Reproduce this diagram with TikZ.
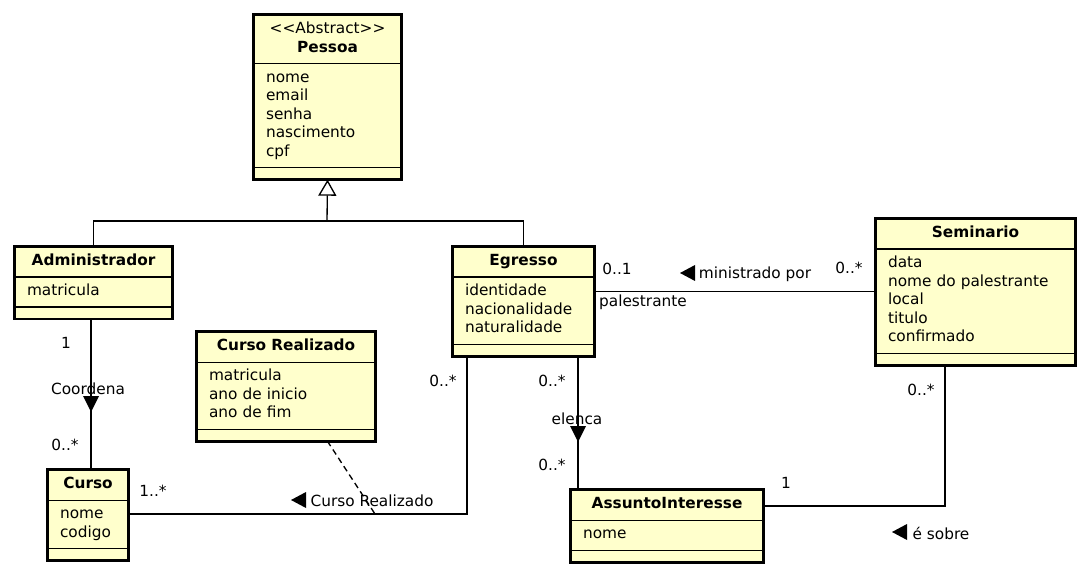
\documentclass[tikz,border=0pt]{standalone}
\usepackage{amsmath}
\usepackage{fontspec}
\setmainfont{DejaVu Sans}
\usepackage{tikz}
\usetikzlibrary{shapes.multipart,arrows.meta}
\definecolor{umlyellow}{HTML}{FFFFCC}

\begin{document}
\begin{tikzpicture}[x=0.75pt,y=-0.75pt]
\tikzstyle{umlclass}=[rectangle split, rectangle split parts=3, draw, line width=0.8pt, fill=umlyellow, inner xsep=9pt, inner ysep=3.9pt, rectangle split empty part height=0pt, rectangle split empty part depth=0pt, anchor=north west, font=\fontsize{11.5}{13.9}\selectfont]
\tikzstyle{border}=[line width=2.2pt]
\tikzstyle{assoc}=[line width=1pt]
\tikzstyle{lbl}=[inner sep=0pt, font=\fontsize{11.5}{13.9}\selectfont]
	\fill[white] (0,0) rectangle (1090,574);
	\useasboundingbox (0,0) rectangle (1090,574);
	% classes
	\node[umlclass, text width=92.25pt] (pessoa) at (253.5,14.5) {\strut\hfill <{}<Abstract>{}>\hfill\strut\\ \hfill\textbf{Pessoa}\hfill\strut
		\nodepart{two}\strut nome\\ email\\ senha\\ nascimento\\ cpf\strut
		\nodepart{three}\rule{0pt}{0pt}};
	\node[umlclass, text width=99.75pt] (adm) at (14.5,246.5) {\strut\hfill\textbf{Administrador}\hfill\strut
		\nodepart{two}\strut matricula
		\nodepart{three}\rule{0pt}{0pt}};
	\node[umlclass, text width=87.75pt] (egresso) at (452.5,246.5) {\strut\hfill\textbf{Egresso}\hfill\strut
		\nodepart{two}\strut identidade\\ nacionalidade\\ naturalidade\strut
		\nodepart{three}\rule{0pt}{0pt}};
	\node[umlclass, text width=131.25pt] (seminario) at (875.5,218.5) {\strut\hfill\textbf{Seminario}\hfill\strut
		\nodepart{two}\strut data\\ nome do palestrante\\ local\\ titulo\\ confirmado\strut
		\nodepart{three}\rule{0pt}{0pt}};
	\node[umlclass, text width=115.5pt] (cursoreal) at (196.5,331.5) {\strut\hfill\textbf{Curso Realizado}\hfill\strut
		\nodepart{two}\strut matricula\\ ano de inicio\\ ano de fim\strut
		\nodepart{three}\rule{0pt}{0pt}};
	\node[umlclass, text width=42pt] (curso) at (47.5,469.5) {\strut\hfill\textbf{Curso}\hfill\strut
		\nodepart{two}\strut nome\\ codigo\strut
		\nodepart{three}\rule{0pt}{0pt}};
	\node[umlclass, text width=126pt] (assunto) at (570.5,489.5) {\strut\hfill\textbf{AssuntoInteresse}\hfill\strut
		\nodepart{two}\strut nome
		\nodepart{three}\rule{0pt}{0pt}};
	\foreach \c in {pessoa,adm,egresso,seminario,cursoreal,curso,assunto}
		\draw[border] (\c.north west) rectangle (\c.south east);

	% generalization
	\coordinate (gen) at (327,221);
	\draw[assoc] (adm.north) |- (gen) -| (egresso.north);
	\draw[assoc,-{Triangle[open,width=13.5pt,length=12pt]}] (gen) -- (pessoa.south);

	% Coordena
	\coordinate (co) at (91,404);
	\draw[assoc] (adm.south -| co) -- (curso.north -| co);
	\fill (co) ++(-8,-8) -- ++(16,0) -- ++(-8,16) -- cycle;
	\node[lbl] (coadm) at (66,343) {1};
	\node[lbl] (cotxt) at (88,389) {Coordena};
	\node[lbl] (cocurso) at (65,445) {0..*};

	% Curso Realizado
	\coordinate (crbend) at (467,514);
	\coordinate (crlink) at (375,514);
	\draw[assoc] (curso.east |- crbend) -| (egresso.south -| crbend);
	\draw[assoc,dash pattern=on 4.5pt off 3pt] ([xshift=31pt]cursoreal.south) -- (crlink);
	\fill (291,500) -- ++(15,-8) -- ++(0,16) -- cycle;
	\node[lbl] (crcurso) at (153,491) {1..*};
	\node[lbl] (crtxt) at (372,501) {Curso Realizado};
	\node[lbl] (cregr) at (443,381) {0..*};

	% ministrado por
	\draw[assoc] (egresso.east |- seminario.west) -- (seminario.west);
	\fill (680,273) -- ++(15,-8) -- ++(0,16) -- cycle;
	\node[lbl] (miegr) at (617,269) {0..1};
	\node[lbl] (mirole) at (643,302) {palestrante};
	\node[lbl] (mitxt) at (755,274) {ministrado por};
	\node[lbl] (misem) at (849,268) {0..*};

	% elenca
	\coordinate (el) at (578,434);
	\draw[assoc] (egresso.south -| el) -- (assunto.north -| el);
	\fill (el) ++(-8,-8) -- ++(16,0) -- ++(-8,16) -- cycle;
	\node[lbl] (elegr) at (552,381) {0..*};
	\node[lbl] (eltxt) at (577,419) {elenca};
	\node[lbl] (elass) at (552,465) {0..*};

	% e sobre
	\coordinate (sbbend) at (945,506);
	\draw[assoc] (assunto.east |- sbbend) -| (seminario.south -| sbbend);
	\fill (892,532) -- ++(15,-8) -- ++(0,16) -- cycle;
	\node[lbl] (sbass) at (786,483) {1};
	\node[lbl] (sbsem) at (921,390) {0..*};
	\node[lbl] (sbtxt) at (941,533) {é sobre};
\end{tikzpicture}
\end{document}
